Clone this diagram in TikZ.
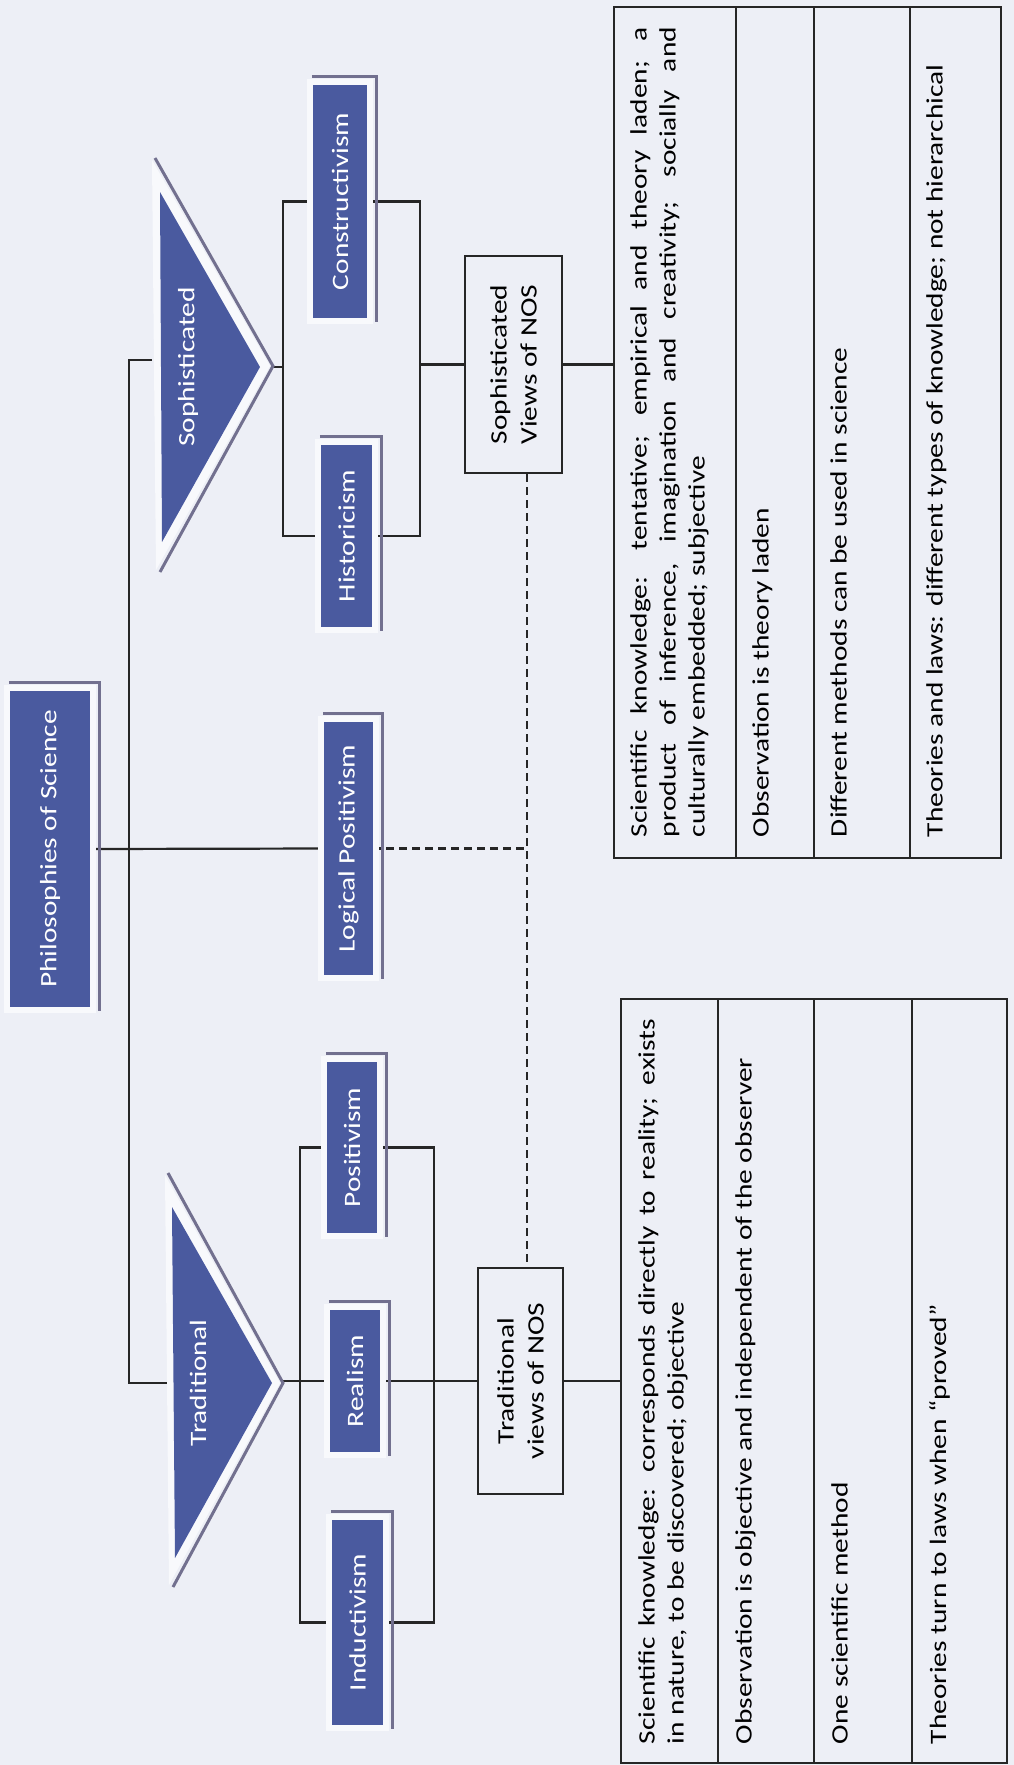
\documentclass[tikz,border=0pt]{standalone}
\usepackage{fontspec}
\setmainfont{Carlito}
\usepackage{graphicx}
\usetikzlibrary{backgrounds}
\definecolor{bg}{HTML}{EDEFF6}
\definecolor{band}{HTML}{F8F9FC}
\definecolor{navy}{HTML}{4A5A9F}
\definecolor{shade}{HTML}{72708F}
\definecolor{ink}{HTML}{262626}
\newcommand{\stretchtxt}[1]{\scalebox{1.25}[1]{#1}}
\begin{document}
\begin{tikzpicture}[x=1pt,y=-1pt,
  conn/.style={draw=ink, line width=2.2pt},
  dashconn/.style={draw=ink, line width=2.2pt, dash pattern=on 8pt off 5pt},
  darkbox/.style={fill=navy, inner sep=0pt, text=white, font=\fontsize{23.5}{28}\selectfont, preaction={draw=band, line width=12pt}},
  sline/.style={draw=shade, line width=3pt},
  tritext/.style={inner sep=0pt, text=white, font=\fontsize{23.5}{28}\selectfont},
  viewbox/.style={draw=ink, fill=bg, line width=2.2pt, inner sep=0pt, font=\fontsize{23.5}{30}\selectfont, text=black},
  cell/.style={draw=ink, line width=2.2pt, inner sep=0pt, anchor=north west},
  celltext/.style={rotate=90, anchor=north west, inner sep=0pt, font=\fontsize{23.5}{29}\selectfont, text=black},
]
\useasboundingbox (0,0) rectangle (1014,1765);

% ---------- tables ----------
\node[cell, minimum width=122pt, minimum height=851pt] (tt1) at (613,6) {};
\node[cell, minimum width=78pt, minimum height=851pt] (tt2) at (735,6) {};
\node[cell, minimum width=96pt, minimum height=851pt] (tt3) at (813,6) {};
\node[cell, minimum width=91pt, minimum height=851pt] (tt4) at (909,6) {};

\node[cell, minimum width=97pt, minimum height=764pt] (bt1) at (620,998) {};
\node[cell, minimum width=96pt, minimum height=764pt] (bt2) at (717,998) {};
\node[cell, minimum width=98pt, minimum height=764pt] (bt3) at (813,998) {};
\node[cell, minimum width=95pt, minimum height=764pt] (bt4) at (911,998) {};

\node[celltext] (tt1t) at ([xshift=17pt,yshift=22pt]tt1.south west) {\stretchtxt{\parbox{648pt}{Scientific knowledge: tentative; empirical and theory laden; a\linebreak product of inference, imagination and creativity; socially and\linebreak culturally embedded; subjective}}};
\node[celltext] (tt2t) at ([xshift=17pt,yshift=22pt]tt2.south west) {\stretchtxt{\parbox{648pt}{Observation is theory laden}}};
\node[celltext] (tt3t) at ([xshift=17pt,yshift=22pt]tt3.south west) {\stretchtxt{\parbox{648pt}{Different methods can be used in science}}};
\node[celltext] (tt4t) at ([xshift=17pt,yshift=22pt]tt4.south west) {\stretchtxt{\parbox{648pt}{Theories and laws: different types of knowledge; not hierarchical}}};

\node[celltext] (bt1t) at ([xshift=18pt,yshift=20pt]bt1.south west) {\stretchtxt{\parbox{580pt}{Scientific knowledge: corresponds directly to reality; exists\linebreak in nature, to be discovered; objective}}};
\node[celltext] (bt2t) at ([xshift=18pt,yshift=20pt]bt2.south west) {\stretchtxt{\parbox{580pt}{Observation is objective and independent of the observer}}};
\node[celltext] (bt3t) at ([xshift=18pt,yshift=20pt]bt3.south west) {\stretchtxt{\parbox{580pt}{One scientific method}}};
\node[celltext] (bt4t) at ([xshift=18pt,yshift=20pt]bt4.south west) {\stretchtxt{\parbox{580pt}{Theories turn to laws when “proved”}}};

% ---------- view boxes ----------
\node[viewbox, minimum width=97pt, minimum height=217pt] (sv) at (513.5,364.5) {\rotatebox{90}{\stretchtxt{\parbox{150pt}{\centering Sophisticated\\Views of NOS}}}};
\node[viewbox, minimum width=85pt, minimum height=226pt] (tv) at (520.5,1381) {\rotatebox{90}{\stretchtxt{\parbox{150pt}{\centering Traditional\\views of NOS}}}};

% ---------- coordinates ----------
\coordinate (sophA) at (273,367);
\coordinate (sbrL) at (283,367);
\coordinate (sbrR) at (420,364.5);
\coordinate (sophL) at (152,360);
\coordinate (tradL) at (167,1383);
\coordinate (tradA) at (283,1381);
\coordinate (dj) at (527,848.5);

% ---------- philosophy boxes ----------
\node[darkbox, minimum width=80pt, minimum height=316pt] (phil) at (50,849) {\rotatebox{90}{\stretchtxt{Philosophies of Science}}};
\node[darkbox, minimum width=54pt, minimum height=233pt] (con) at (340,201.5) {\rotatebox{90}{\stretchtxt{Constructivism}}};
\node[darkbox, minimum width=51pt, minimum height=182pt] (his) at (346.5,536) {\rotatebox{90}{\stretchtxt{Historicism}}};
\node[darkbox, minimum width=49pt, minimum height=253pt] (lp) at (348.5,848.5) {\rotatebox{90}{\stretchtxt{Logical Positivism}}};
\node[darkbox, minimum width=50pt, minimum height=171pt] (pos) at (352,1147.5) {\rotatebox{90}{\stretchtxt{Positivism}}};
\node[darkbox, minimum width=50pt, minimum height=142pt] (rea) at (355,1381) {\rotatebox{90}{\stretchtxt{Realism}}};
\node[darkbox, minimum width=51pt, minimum height=205pt] (ind) at (357.5,1622.5) {\rotatebox{90}{\stretchtxt{Inductivism}}};

\foreach \n in {phil,con,his,lp,pos,rea,ind}{
  \draw[sline] ([xshift=-1pt,yshift=8pt]\n.north west) -- ([xshift=9pt,yshift=8pt]\n.north east) -- ([xshift=9pt,yshift=-4pt]\n.south east);
}

% ---------- triangles ----------
\fill[band] (152,160) -- (270,366) -- (156,570) -- cycle;
\fill[navy] (160,192) -- (260,367) -- (162,542) -- cycle;
\draw[sline] (155,158) -- (273,366) -- (160,572);
\node[tritext] (sophT) at (188,367) {\rotatebox{90}{\stretchtxt{Sophisticated}}};

\fill[band] (165,1175) -- (280,1383) -- (169,1585) -- cycle;
\fill[navy] (172,1207) -- (272,1383) -- (175,1558) -- cycle;
\draw[sline] (168,1173) -- (283,1383) -- (173,1587);
\node[tritext] (tradT) at (198,1383) {\rotatebox{90}{\stretchtxt{Traditional}}};

% ---------- connectors, behind everything else ----------
\begin{scope}[on background layer]
\fill[bg] (0,0) rectangle (1014,1765);
\draw[conn] (con.west) -- ++(-30,0) |- (his.west);
\draw[conn] (con.east) -- ++(53,0) |- (his.east);
\draw[conn] (sophA) -- (sbrL);
\draw[conn] (sbrR) -- (sv.west);
\draw[conn] (sophL) -- ++(-23,0) |- (tradL);
\draw[conn] (phil.east) -- (lp.west);
\draw[conn] (pos.west) -- ++(-27,0) |- (ind.west);
\draw[conn] (pos.east) -- ++(57,0) |- (ind.east);
\draw[conn] (tradA) -- (rea.west);
\draw[conn] (rea.east) -- (tv.west);
\draw[conn] (sv.east) -- (sv.east -| tt1.west);
\draw[conn] (tv.east) -- (tv.east -| bt1.west);
\draw[dashconn] (lp.east) -- (dj);
\draw[dashconn] (sv.south -| dj) -- (tv.north -| dj);
\end{scope}
\end{tikzpicture}
\end{document}
